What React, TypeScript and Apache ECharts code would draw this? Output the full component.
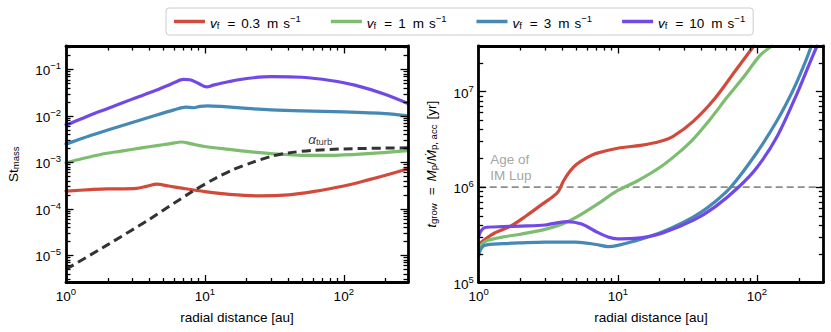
import React, { useEffect, useRef } from 'react';
import * as echarts from 'echarts';

const FONT = '"Liberation Sans", Arial, Helvetica, sans-serif';
const RED = '#d24a3b';
const GREEN = '#7dbd70';
const BLUE = '#4589b4';
const PURPLE = '#7049e6';
const DARK = '#333333';
const GREY = '#8c8c8c';

// ---- Left panel: St_mass vs radial distance ----
const stRedR = [1, 1.5, 2, 2.6, 3.2, 3.8, 4.5, 5.5, 7, 10, 15, 25, 40, 60, 100, 150, 200, 290];
const stRedV = [2.4e-4, 2.6e-4, 2.7e-4, 2.7e-4, 2.75e-4, 3.05e-4, 3.4e-4, 3.1e-4, 2.75e-4, 2.35e-4, 2.05e-4, 1.9e-4, 2.0e-4, 2.35e-4, 3.1e-4, 4.2e-4, 5.3e-4, 7.3e-4];
const stGreenR = [1, 1.3, 1.8, 2.5, 3.5, 4.5, 5.5, 6.8, 8, 10, 15, 20, 30, 50, 80, 150, 290];
const stGreenV = [9.8e-4, 1.2e-3, 1.5e-3, 1.75e-3, 2.05e-3, 2.3e-3, 2.5e-3, 2.75e-3, 2.5e-3, 2.2e-3, 1.9e-3, 1.72e-3, 1.55e-3, 1.42e-3, 1.42e-3, 1.55e-3, 1.8e-3];
const stBlueR = [1, 1.05, 1.5, 2, 3, 4.5, 6, 7.3, 8.3, 9.2, 10.5, 13, 20, 30, 50, 100, 200, 290];
const stBlueV = [2.5e-3, 2.6e-3, 3.8e-3, 5.0e-3, 7.2e-3, 1.05e-2, 1.35e-2, 1.55e-2, 1.5e-2, 1.6e-2, 1.65e-2, 1.6e-2, 1.45e-2, 1.35e-2, 1.28e-2, 1.22e-2, 1.12e-2, 1.0e-2];
const stPurpleR = [1, 1.05, 1.5, 2, 3, 4.5, 6, 7, 7.8, 9, 10.3, 11.5, 15, 20, 30, 50, 80, 120, 200, 290];
const stPurpleV = [6.5e-3, 6.7e-3, 1.05e-2, 1.45e-2, 2.3e-2, 3.6e-2, 5.2e-2, 6.1e-2, 6.0e-2, 5.0e-2, 4.2e-2, 4.6e-2, 5.5e-2, 6.4e-2, 7.0e-2, 6.8e-2, 5.8e-2, 4.6e-2, 2.9e-2, 1.85e-2];
const alphaR = [1, 2, 4, 8, 12, 16, 22, 30, 40, 60, 100, 200, 290];
const alphaV = [5e-6, 1.7e-5, 6e-5, 2.3e-4, 4.6e-4, 7e-4, 1.0e-3, 1.35e-3, 1.6e-3, 1.82e-3, 1.95e-3, 2.03e-3, 2.06e-3];

// ---- Right panel: t_grow vs radial distance ----
const tRedR = [1, 1.1, 1.3, 1.7, 2.2, 2.9, 3.44, 3.74, 4.06, 4.54, 5.06, 6, 7, 10, 15, 20, 25, 35, 50, 70, 95];
const tRedV = [2.5e5, 2.8e5, 3.3e5, 3.9e5, 5.0e5, 6.7e5, 8.0e5, 9.0e5, 1.15e6, 1.47e6, 1.73e6, 2.03e6, 2.25e6, 2.55e6, 2.75e6, 3.0e6, 3.4e6, 4.9e6, 8.5e6, 1.65e7, 3.0e7];
const tGreenR = [1, 1.05, 1.15, 1.5, 2, 3, 4, 5, 7, 10, 13.7, 20, 27, 35, 46, 61, 80, 105, 128];
const tGreenV = [2.2e5, 2.5e5, 2.75e5, 3.0e5, 3.2e5, 3.6e5, 4.1e5, 4.8e5, 6.5e5, 9.2e5, 1.15e6, 1.6e6, 2.25e6, 3.2e6, 5.1e6, 8.7e6, 1.41e7, 2.38e7, 3.0e7];
const tBlueR = [1, 1.03, 1.1, 1.5, 2, 3, 5, 7, 8.5, 10, 13, 20, 30, 40, 50, 65, 100, 140, 180, 215, 246];
const tBlueV = [1.9e5, 2.2e5, 2.45e5, 2.55e5, 2.6e5, 2.65e5, 2.65e5, 2.5e5, 2.38e5, 2.45e5, 2.7e5, 3.3e5, 4.3e5, 5.5e5, 7.0e5, 1.0e6, 2.3e6, 5.0e6, 1.0e7, 1.8e7, 3.0e7];
const tPurpleR = [1, 1.03, 1.1, 1.5, 2, 3, 4.3, 5.5, 7, 8.5, 10, 12, 15, 21, 35, 50, 74, 100, 140, 200, 240, 270];
const tPurpleV = [3.0e5, 3.4e5, 3.75e5, 3.85e5, 3.9e5, 4.0e5, 4.35e5, 4.1e5, 3.4e5, 3.0e5, 2.87e5, 2.88e5, 2.95e5, 3.3e5, 4.5e5, 6.2e5, 1.0e6, 1.6e6, 3.4e6, 1.05e7, 2.0e7, 3.0e7];
const ageIMLup = 1e6;

// ---- Axes ----
const xMinL = 1, xMaxL = 290;
const xMinR = 1, xMaxR = 300;
const yMinL = 2.6e-6, yMaxL = 0.32;
const yMinR = 1e5, yMaxR = 3.0e7;
const xMajorTicks = [1, 10, 100];
const yMajorTicksL = [1e-5, 1e-4, 1e-3, 1e-2, 1e-1];
const yMajorTicksR = [1e5, 1e6, 1e7];

const legendNames = ['vf0.3', 'vf1', 'vf3', 'vf10'];
const legendValues = ['0.3', '1', '3', '10'];

function minorTicks(min: number, max: number): number[] {
  const out: number[] = [];
  for (let e = Math.floor(Math.log10(min)); e <= Math.ceil(Math.log10(max)); e++) {
    for (let k = 2; k <= 9; k++) {
      const v = k * Math.pow(10, e);
      if (v >= min * 0.9999 && v <= max * 1.0001) out.push(v);
    }
  }
  return out;
}

const zip = (a: number[], b: number[]) => a.map((v, i) => [v, b[i]]);

const FS = 13.5;
const FSS = 9.5;
const richBase: any = {
  b: { fontFamily: FONT, fontSize: FS, color: '#000', lineHeight: 17, verticalAlign: 'bottom' },
  sup: { fontFamily: FONT, fontSize: FSS, color: '#000', lineHeight: 10, verticalAlign: 'top' },
  sub: { fontFamily: FONT, fontSize: FSS, color: '#000', lineHeight: 10, verticalAlign: 'bottom' },
  it: { fontFamily: FONT, fontSize: FS, fontStyle: 'italic', color: '#000', lineHeight: 17, verticalAlign: 'bottom' },
  eq: { fontFamily: FONT, fontSize: FS, color: '#000', lineHeight: 17, verticalAlign: 'bottom', padding: [0, 6, 0, 8] },
  num: { fontFamily: FONT, fontSize: FS, color: '#000', lineHeight: 17, verticalAlign: 'bottom', padding: [0, 7, 0, 0] },
  u: { fontFamily: FONT, fontSize: FS, color: '#000', lineHeight: 17, verticalAlign: 'bottom', padding: [0, 0, 0, 5] },
};

function powLabel(v: number) {
  const e = Math.round(Math.log10(v));
  return `{b|10}{sup|${e < 0 ? '\u2212' + -e : e}}`;
}

function makeAxes(dim: 'x' | 'y', gridIndex: number, min: number, max: number, majors: number[], name: string, nameGap: number) {
  const pos = dim === 'x' ? ['bottom', 'top'] : ['left', 'right'];
  const minors = minorTicks(min, max);
  const axes: any[] = [];
  pos.forEach((p, pi) => {
    [true, false].forEach((isMajor) => {
      const main = pi === 0 && isMajor;
      axes.push({
        type: 'log',
        logBase: 10,
        gridIndex,
        position: p,
        min,
        max,
        splitLine: { show: false },
        axisLine: { show: isMajor, lineStyle: { color: '#000', width: 2.8 } },
        axisTick: {
          show: true,
          inside: true,
          length: isMajor ? 7.5 : 4.5,
          customValues: isMajor ? majors : minors,
          lineStyle: { color: '#000', width: 1.3 },
        },
        axisLabel: main
          ? {
              show: true,
              customValues: majors,
              formatter: (v: number) => powLabel(v),
              margin: dim === 'x' ? 4 : 5,
              rich: richBase,
            }
          : { show: false },
        name: main ? name : '',
        nameLocation: 'middle',
        nameGap,
        nameRotate: dim === 'y' ? 90 : 0,
        nameTextStyle: { fontFamily: FONT, fontSize: FS, color: '#000', rich: richBase },
        z: 10,
      });
    });
  });
  return axes;
}

export default function App() {
  const ref = useRef<HTMLDivElement>(null);
  useEffect(() => {
    if (!ref.current) return;
    const chart = echarts.init(ref.current, undefined, { renderer: 'svg' });
    const lineSeries = (name: string, color: string, data: number[][], xi: number, yi: number, extra: any = {}) => ({
      type: 'line',
      name,
      data,
      xAxisIndex: xi,
      yAxisIndex: yi,
      showSymbol: false,
      symbol: 'none',
      smooth: 0.3,
      clip: true,
      lineStyle: { color, width: 3.2, cap: 'round', join: 'round' },
      itemStyle: { color },
      ...extra,
    });
    const labelSeries = (xi: number, yi: number, pt: number[], text: string, color: string) => ({
      type: 'scatter',
      xAxisIndex: xi,
      yAxisIndex: yi,
      data: [pt],
      symbol: 'circle',
      symbolSize: 1,
      itemStyle: { color: 'rgba(0,0,0,0)' },
      silent: true,
      z: 20,
      label: {
        show: true,
        position: 'right',
        distance: 0,
        formatter: () => text,
        color,
        fontFamily: FONT,
        fontSize: FS,
        lineHeight: 16,
        align: 'left',
        verticalAlign: 'middle',
        rich: {
          it: { fontFamily: FONT, fontSize: FS, fontStyle: 'italic', color: '#000', lineHeight: 17, verticalAlign: 'bottom' },
          sub: { fontFamily: FONT, fontSize: FSS, color: '#000', lineHeight: 10, verticalAlign: 'bottom' },
        },
      },
    });

    const option: any = {
      animation: false,
      backgroundColor: '#fff',
      grid: [
        { left: 66, top: 46, width: 342, height: 236.5 },
        { left: 478.7, top: 46, width: 344.6, height: 236.5 },
      ],
      legend: {
        data: legendNames,
        left: 166,
        top: 8,
        itemWidth: 31,
        itemHeight: 3.5,
        itemGap: 30,
        icon: 'rect',
        padding: [5, 8, 5, 8],
        borderColor: '#cccccc',
        borderWidth: 1,
        borderRadius: 3,
        backgroundColor: '#fff',
        formatter: (n: string) => {
          const v = legendValues[legendNames.indexOf(n)];
          return `{it|v}{sub|f}{eq|=}{num|${v}}{b|m}{u|s}{sup|\u22121}`;
        },
        textStyle: { fontFamily: FONT, fontSize: FS, color: '#000', rich: richBase },
      },
      xAxis: [
        ...makeAxes('x', 0, xMinL, xMaxL, xMajorTicks, 'radial distance [au]', 28),
        ...makeAxes('x', 1, xMinR, xMaxR, xMajorTicks, 'radial distance [au]', 28),
      ],
      yAxis: [
        ...makeAxes('y', 0, yMinL, yMaxL, yMajorTicksL, '{b|St}{sub|mass}', 46),
        ...makeAxes('y', 1, yMinR, yMaxR, yMajorTicksR, '{it|t}{sub|grow}{eq|=}{it|M}{sub|p}{b|/}{it|\u1E40}{sub|p, acc}{u|[yr]}', 40),
      ],
      series: [
        lineSeries('vf0.3', RED, zip(stRedR, stRedV), 0, 0),
        lineSeries('vf1', GREEN, zip(stGreenR, stGreenV), 0, 0),
        lineSeries('vf3', BLUE, zip(stBlueR, stBlueV), 0, 0),
        lineSeries('vf10', PURPLE, zip(stPurpleR, stPurpleV), 0, 0),
        lineSeries('alpha', DARK, zip(alphaR, alphaV), 0, 0, {
          lineStyle: { color: DARK, width: 3, type: [9, 5] },
        }),
        labelSeries(0, 0, [55, 3.3e-3], '{it|\u03B1}{sub|turb}', '#000'),
        lineSeries('age', GREY, [[xMinR, ageIMLup], [xMaxR, ageIMLup]], 4, 4, {
          smooth: false,
          lineStyle: { color: GREY, width: 1.8, type: [7, 4] },
        }),
        labelSeries(4, 4, [1.2, 1.6e6], 'Age of\nIM Lup', GREY),
        lineSeries('vf0.3', RED, zip(tRedR, tRedV), 4, 4),
        lineSeries('vf1', GREEN, zip(tGreenR, tGreenV), 4, 4),
        lineSeries('vf3', BLUE, zip(tBlueR, tBlueV), 4, 4),
        lineSeries('vf10', PURPLE, zip(tPurpleR, tPurpleV), 4, 4),
      ],
    };
    chart.setOption(option);
    return () => chart.dispose();
  }, []);
  return <div ref={ref} style={{ position: 'fixed', left: 0, top: 0, width: 831, height: 332, background: '#fff' }} />;
}
